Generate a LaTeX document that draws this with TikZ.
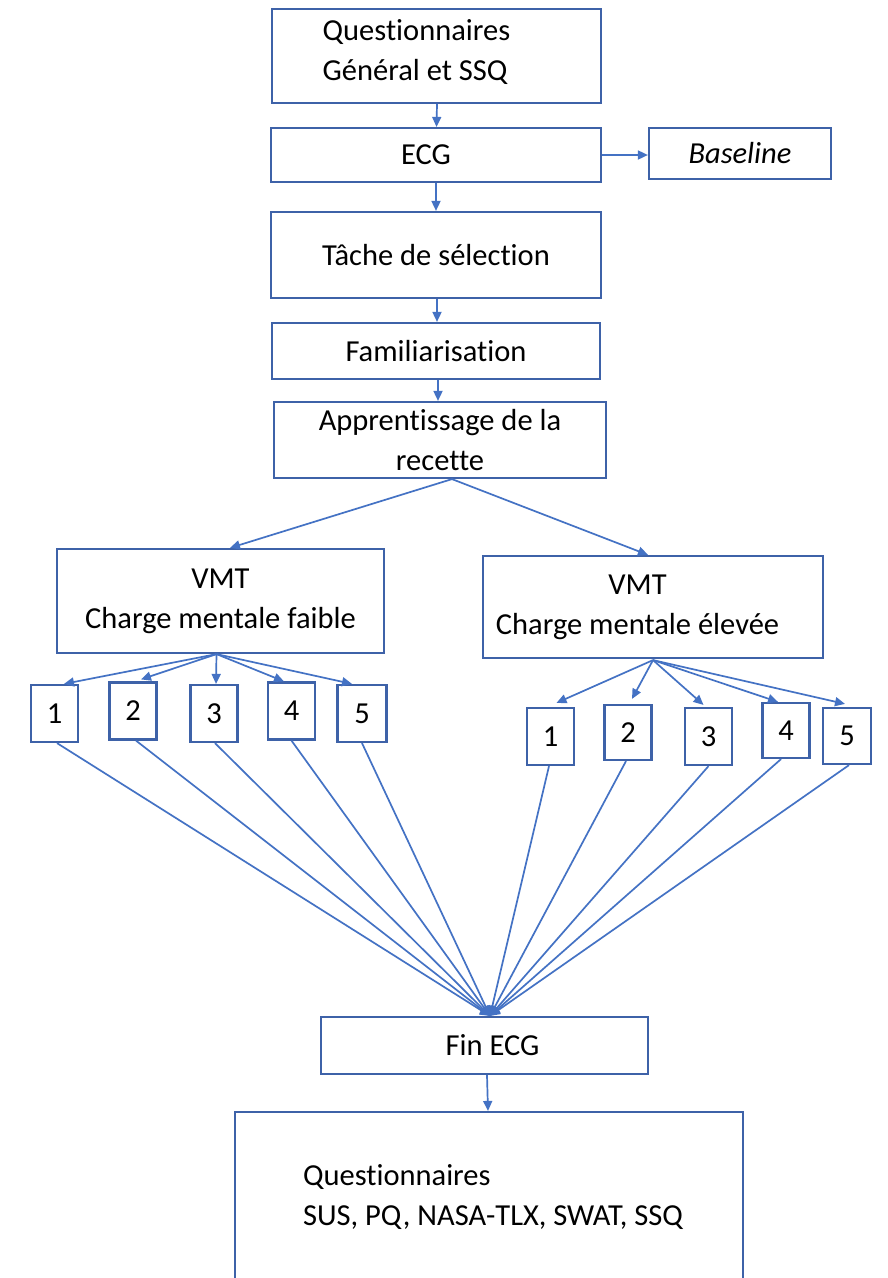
\documentclass[tikz,border=0pt]{standalone}
\usepackage{fontspec}
\setmainfont{Carlito}[Ligatures={NoCommon}]
\usetikzlibrary{arrows.meta}
\definecolor{boxline}{RGB}{62,98,168}
\definecolor{arrline}{RGB}{68,114,196}
\begin{document}
\begin{tikzpicture}[x=1pt,y=-1pt,
  box/.style={draw=boxline, line width=2.2pt, fill=white, rectangle, inner sep=0pt,
              font=\fontsize{30.5}{40}\selectfont, align=center},
  numbox/.style={box, minimum width=47pt, minimum height=57pt},
  lbl/.style={font=\fontsize{30.5}{40}\selectfont, inner sep=0pt, label distance=0pt},
  arr/.style={draw=arrline, line width=1.7pt, -{Triangle[length=10pt,width=9pt]}}]

\fill[white] (0,0) rectangle (887,1278);
\clip (0,0) rectangle (887,1278);

% main column
\node[box, minimum width=329pt, minimum height=94pt,
      label={[lbl, align=left, xshift=-20pt, yshift=4pt]center:{Questionnaires\\Général et SSQ}}]
      (quest) at (436.5,56) {};
\node[box, minimum width=330pt, minimum height=54pt,
      label={[lbl, xshift=-10pt]center:ECG}] (ecg) at (436,155) {};
\node[box, minimum width=182pt, minimum height=51pt] (base) at (740,153.5) {\itshape Baseline};
\node[box, minimum width=330pt, minimum height=86pt] (tache) at (436,255) {Tâche de sélection};
\node[box, minimum width=328pt, minimum height=56pt] (fam) at (436,351) {Familiarisation};
\node[box, minimum width=332pt, minimum height=76pt] (appr) at (440,440) {Apprentissage de la\\recette};

% the two conditions
\node[box, minimum width=327pt, minimum height=104pt] (vmtL) at (220.5,601) {VMT\\Charge mentale faible};
\node[box, minimum width=340pt, minimum height=102pt,
      label={[lbl, align=center, xshift=-15.5pt]center:{VMT\\Charge mentale élevée}}]
      (vmtH) at (653,607) {};

% sessions, low load
\node[numbox] (l1) at (54.5,713.5) {1};
\node[numbox] (l2) at (133,711) {2};
\node[numbox] (l3) at (214,713.5) {3};
\node[numbox] (l4) at (291.5,711) {4};
\node[numbox, minimum width=49pt] (l5) at (362,713.5) {5};

% sessions, high load
\node[numbox] (h1) at (550.5,736.5) {1};
\node[numbox, minimum height=55pt] (h2) at (628,732.5) {2};
\node[numbox] (h3) at (708.5,736.5) {3};
\node[numbox, minimum height=55pt] (h4) at (786,730.5) {4};
\node[numbox, minimum width=48pt, minimum height=56pt] (h5) at (847,736) {5};

% end
\node[box, minimum width=327pt, minimum height=57pt,
      label={[lbl, xshift=8pt]center:Fin ECG}] (fin) at (484.5,1045.5) {};
\node[box, minimum width=508pt, minimum height=170pt,
      label={[lbl, align=left, xshift=4pt]center:{Questionnaires\\SUS, PQ, NASA-TLX, SWAT, SSQ}}]
      (final) at (489,1197) {};

\coordinate (hub) at ([xshift=5.5pt]fin.north);
\coordinate (srcL) at ([xshift=-4pt]vmtL.south);
\coordinate (srcH) at ([xshift=0pt, yshift=-1pt]vmtH.south);
\coordinate (srcA) at ([xshift=12pt]appr.south);

% connectors
\draw[arr] ([xshift=0.5pt]quest.south) -- ([xshift=0.5pt]ecg.north);
\draw[arr] (ecg.east) -- (ecg.east -| base.west);
\draw[arr] (ecg.south) -- (tache.north);
\draw[arr] ([xshift=1pt]tache.south) -- ([xshift=1pt]fam.north);
\draw[arr] ([xshift=2pt]fam.south) -- ([xshift=-2pt]appr.north);
\draw[arr] (srcA) -- ([xshift=9.5pt]vmtL.north);
\draw[arr] (srcA) -- ([xshift=-5pt]vmtH.north);

\draw[arr] (srcL) -- ([xshift=9.5pt]l1.north);
\draw[arr] (srcL) -- ([xshift=8pt, yshift=2pt]l2.north);
\draw[arr] (srcL) -- ([xshift=2pt]l3.north);
\draw[arr] (srcL) -- ([xshift=-7.5pt]l4.north);
\draw[arr] (srcL) -- ([xshift=-10pt]l5.north);

\draw[arr] (srcH) -- ([xshift=6pt, yshift=4pt]h1.north);
\draw[arr] (srcH) -- ([xshift=4pt, yshift=5pt]h2.north);
\draw[arr] (srcH) -- ([xshift=-5pt, yshift=2pt]h3.north);
\draw[arr] (srcH) -- ([xshift=-8pt]h4.north);
\draw[arr] (srcH) -- ([xshift=-2pt, yshift=3pt]h5.north);

\foreach \b/\dx in {l1/2.5, l2/3, l3/1, l4/0, l5/0, h1/-1.5, h2/-2, h3/0, h4/-5, h5/2}
  \draw[arr] ([xshift=\dx pt]\b.south) -- (hub);

\draw[arr] ([xshift=2.5pt]fin.south) -- ([xshift=-1pt]final.north);
\end{tikzpicture}
\end{document}
